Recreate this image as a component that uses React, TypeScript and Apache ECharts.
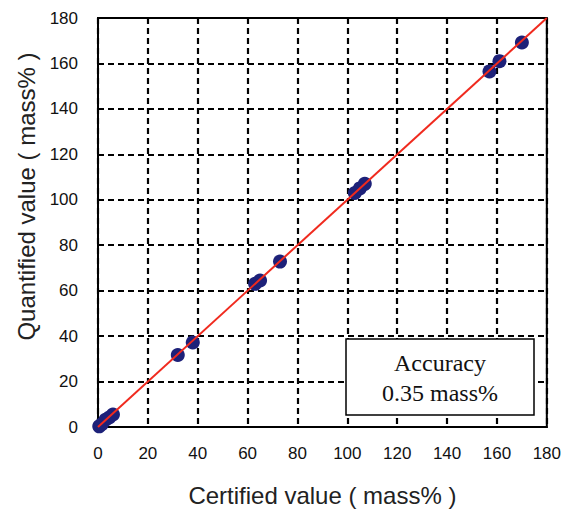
import React, { useEffect, useRef } from "react";
import * as echarts from "echarts";

const certified = [0.5, 1.5, 3, 4.5, 6, 32, 38, 63, 65, 73, 103, 105, 107, 157, 161, 170];
const quantified = [0.3, 1.2, 3.2, 4.2, 5.5, 31.7, 37.2, 63, 64.5, 72.8, 103, 105, 107, 156.5, 161, 169.2];
const refLineX = [0, 180];
const refLineY = [0, 180];
const boxLines = ["Accuracy", "0.35 mass%"];
const xName = "Certified value ( mass% )";
const yName = "Quantified value ( mass% )";

export default function App() {
  const ref = useRef<HTMLDivElement>(null);
  useEffect(() => {
    if (!ref.current) return;
    const chart = echarts.init(ref.current, undefined, { renderer: "svg" });
    const sans = "Liberation Sans, Arial, sans-serif";
    const serif = "Liberation Serif, Times New Roman, serif";
    const axisCommon = {
      type: "value",
      min: 0,
      max: 180,
      interval: 20,
      axisLine: { show: true, lineStyle: { color: "#000", width: 2 } },
      axisTick: { show: false },
      splitLine: { show: true, lineStyle: { color: "#000", width: 2.2, type: [6, 4] } },
      axisLabel: { color: "#111", fontSize: 17, fontFamily: sans },
      nameLocation: "middle",
      nameTextStyle: { color: "#222", fontSize: 24, fontFamily: sans },
    };
    chart.setOption({
      animation: false,
      grid: {
        left: 98,
        right: 16,
        top: 18,
        bottom: 83,
        show: true,
        borderColor: "#000",
        borderWidth: 2,
        backgroundColor: "#fff",
      },
      xAxis: {
        ...axisCommon,
        name: xName,
        nameGap: 56,
        axisLabel: { ...axisCommon.axisLabel, margin: 18 },
      },
      yAxis: {
        ...axisCommon,
        name: yName,
        nameGap: 54,
        nameTextStyle: { ...axisCommon.nameTextStyle, padding: [0, 0, 0, 52] },
        axisLabel: { ...axisCommon.axisLabel, margin: 20 },
      },
      series: [
        {
          type: "scatter",
          data: certified.map((c, i) => [c, quantified[i]]),
          symbol: "circle",
          symbolSize: 14,
          itemStyle: { color: "#1d2179", opacity: 1 },
          z: 2,
        },
        {
          type: "line",
          data: refLineX.map((x, i) => [x, refLineY[i]]),
          showSymbol: false,
          symbol: "none",
          lineStyle: { color: "#f02a1e", width: 2 },
          z: 3,
        },
      ],
      graphic: [
        {
          type: "rect",
          z: 100,
          shape: { x: 346, y: 339, width: 188, height: 76 },
          style: { fill: "#fff", stroke: "#000", lineWidth: 1.5 },
        },
        {
          type: "text",
          z: 101,
          x: 440,
          y: 363,
          style: {
            text: boxLines[0],
            fill: "#111",
            font: `24px ${serif}`,
            textAlign: "center",
            textVerticalAlign: "middle",
          },
        },
        {
          type: "text",
          z: 101,
          x: 440,
          y: 393,
          style: {
            text: boxLines[1],
            fill: "#111",
            font: `24px ${serif}`,
            textAlign: "center",
            textVerticalAlign: "middle",
          },
        },
      ],
    });
    return () => chart.dispose();
  }, []);
  return (
    <div
      ref={ref}
      style={{ position: "fixed", left: 0, top: 0, width: 564, height: 512, background: "#fff" }}
    />
  );
}
